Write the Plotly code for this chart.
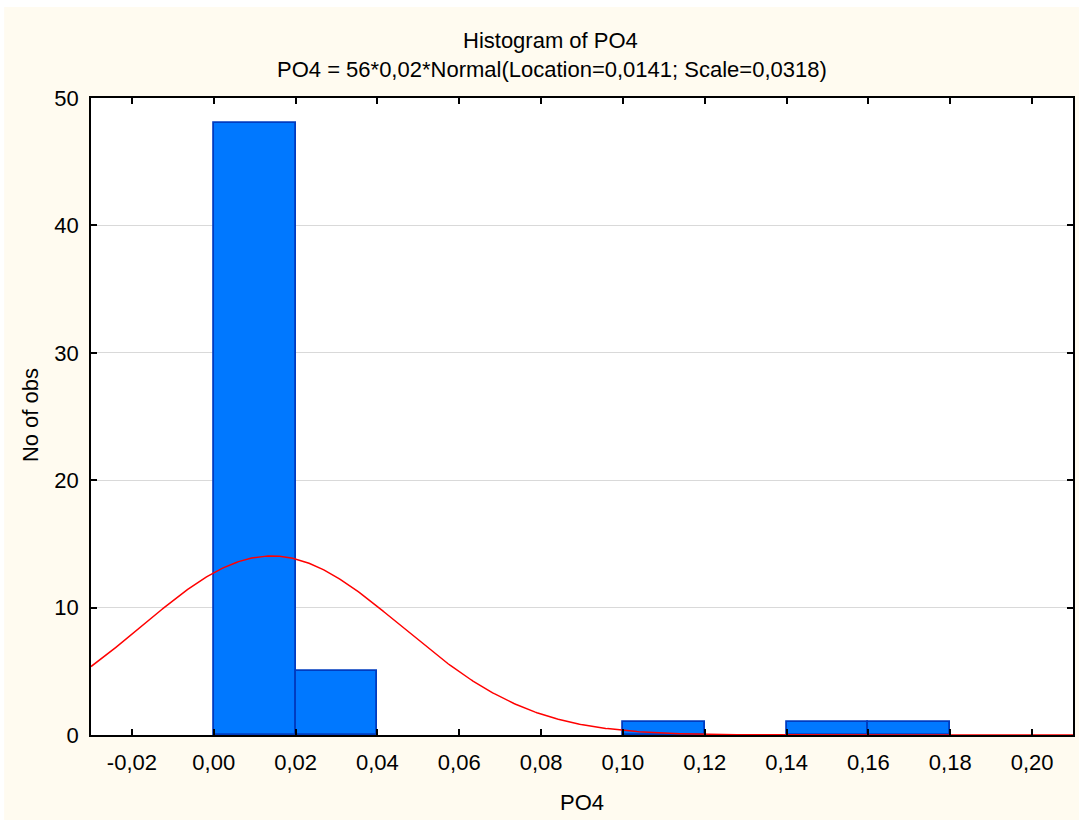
import numpy as np
import plotly.graph_objects as go

# Histogram bins (left edges) and counts
bin_left = [0.00, 0.02, 0.10, 0.14, 0.16]
counts = [48, 5, 1, 1, 1]
bin_width = 0.02

# Fitted normal parameters (from subtitle)
n_obs = 56
location = 0.0141
scale = 0.0318

x_ticks = [-0.02, 0.00, 0.02, 0.04, 0.06, 0.08, 0.10, 0.12, 0.14, 0.16, 0.18, 0.20]
x_tick_labels = ["-0,02", "0,00", "0,02", "0,04", "0,06", "0,08", "0,10", "0,12", "0,14", "0,16", "0,18", "0,20"]
y_ticks = [0, 10, 20, 30, 40, 50]

W, H = 1079, 823
L, R, T, B = 91, 1075, 98, 735
pw, ph = R - L, B - T

def px_x(p):
    return (p - L) / pw

def px_y(p):
    return (B - p) / ph

xs = np.linspace(-0.03, 0.21, 600)
ys = n_obs * bin_width * np.exp(-0.5 * ((xs - location) / scale) ** 2) / (scale * np.sqrt(2 * np.pi))

font = "Liberation Sans, Arial, sans-serif"
fs = 22

fig = go.Figure()
fig.add_trace(go.Bar(
    x=[b + bin_width / 2 for b in bin_left], y=counts, width=bin_width,
    marker=dict(color="#0078FF", line=dict(color="#003CC0", width=1.8)),
    showlegend=False, hoverinfo="skip",
))
fig.add_trace(go.Scatter(
    x=xs, y=ys, mode="lines", line=dict(color="#FF0000", width=1.5),
    showlegend=False, hoverinfo="skip",
))

shapes = [
    dict(type="rect", xref="paper", yref="paper", x0=px_x(4), x1=px_x(1079) + 0.01,
         y0=px_y(820), y1=px_y(7), fillcolor="#FFFBF0", line=dict(width=0), layer="below"),
    dict(type="rect", xref="paper", yref="paper", x0=0, x1=1, y0=0, y1=1,
         fillcolor="#FFFFFF", line=dict(width=0), layer="below"),
]

annotations = [
    dict(text="Histogram of PO4", xref="paper", yref="paper", x=px_x(551), y=px_y(40),
         showarrow=False, xanchor="center", yanchor="middle", font=dict(size=fs, color="#000000", family=font)),
    dict(text="PO4 = 56*0,02*Normal(Location=0,0141; Scale=0,0318)", xref="paper", yref="paper",
         x=px_x(553), y=px_y(70), showarrow=False, xanchor="center", yanchor="middle",
         font=dict(size=fs, color="#000000", family=font)),
    dict(text="PO4", xref="paper", yref="paper", x=px_x(583), y=px_y(802), showarrow=False,
         xanchor="center", yanchor="middle", font=dict(size=fs, color="#000000", family=font)),
    dict(text="No of obs", xref="paper", yref="paper", x=px_x(30), y=px_y(415), showarrow=False,
         textangle=-90, xanchor="center", yanchor="middle", font=dict(size=fs, color="#000000", family=font)),
]

fig.update_layout(
    width=W, height=H,
    margin=dict(l=L, r=W - R, t=T, b=H - B, pad=0),
    paper_bgcolor="#FFFFFF", plot_bgcolor="rgba(0,0,0,0)",
    bargap=0, shapes=shapes, annotations=annotations,
    font=dict(family=font, size=fs, color="#000000"),
    xaxis=dict(range=[-0.03, 0.21], tickvals=x_ticks, ticktext=x_tick_labels,
               ticks="inside", ticklen=6, tickwidth=1.5, tickcolor="#000000",
               showline=True, linecolor="#000000", linewidth=1.5, mirror="ticks",
               showgrid=False, zeroline=False, ticklabelstandoff=7,
               tickfont=dict(size=fs, family=font, color="#000000")),
    yaxis=dict(range=[0, 50], tickvals=y_ticks,
               ticks="inside", ticklen=6, tickwidth=1.5, tickcolor="#000000",
               showline=True, linecolor="#000000", linewidth=1.5, mirror="ticks",
               showgrid=True, gridcolor="#D9D9D9", gridwidth=1.3, zeroline=False,
               ticklabelstandoff=6,
               tickfont=dict(size=fs, family=font, color="#000000")),
)

fig.write_html("out.html")
